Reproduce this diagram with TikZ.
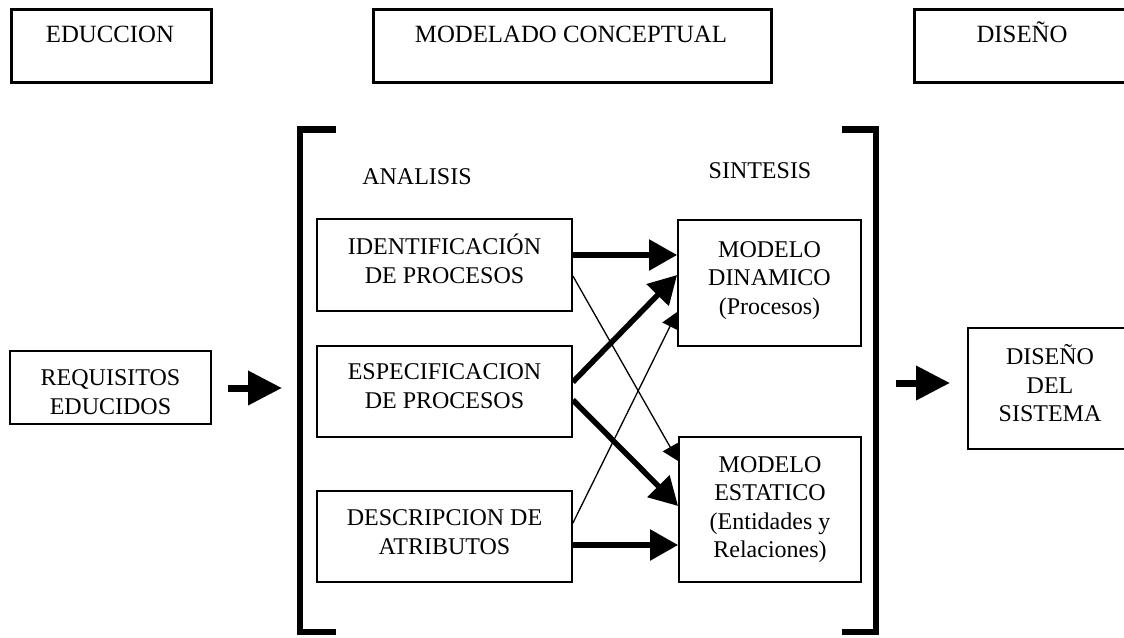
\documentclass[tikz,border=0pt]{standalone}
\usepackage{fontspec}
\setmainfont{Liberation Serif}
\usetikzlibrary{arrows.meta}
\newcommand\liftlines[2]{\raisebox{#1}[\height][\depth]{\def\arraystretch{1}\begin{tabular}{@{}c@{}}#2\end{tabular}}}
\tikzset{
  box/.style={draw, line width=1.8pt, inner sep=0pt, align=center, font=\fontsize{24}{28.5}\selectfont},
  topbox/.style={draw, line width=2.6pt, inner sep=0pt},
  toptext/.style={inner sep=0pt, anchor=base, font=\fontsize{24.8}{29}\selectfont},
  lbl/.style={inner sep=0pt, font=\fontsize{24}{28.5}\selectfont},
  thick arrow/.style={line width=5.5pt, -{Triangle[length=28pt,width=30pt]}},
  thin arrow/.style={line width=1.3pt, -{Triangle[length=16pt,width=17pt]}},
  big arrow/.style={line width=7pt, -{Triangle[length=34pt,width=33pt]}},
  bracket/.style={line width=6.5pt, line join=miter},
}
\begin{document}
\begin{tikzpicture}[x=1pt,y=-1pt]
\useasboundingbox (0,0) rectangle (1124,637);
\clip (0,0) rectangle (1124,637);
% top boxes
\node[topbox, minimum width=200pt, minimum height=73pt, anchor=north west] (educ) at (10,8) {};
\node[toptext] (educt) at (110,42) {EDUCCION};
\node[topbox, minimum width=398pt, minimum height=73pt, anchor=north west] (mod) at (372,8) {};
\node[toptext] (modt) at (571,42) {MODELADO CONCEPTUAL};
\node[topbox, minimum width=220pt, minimum height=73pt, anchor=north west] (dis) at (913,8) {};
\node[toptext] (dist) at (1022,42) {DISEÑO};
% brackets
\coordinate (lb1) at (336,129.5); \coordinate (lb2) at (300,129.5);
\coordinate (lb3) at (300,632); \coordinate (lb4) at (336,632);
\coordinate (rb1) at (842,129.5); \coordinate (rb2) at (876,129.5);
\coordinate (rb3) at (876,632); \coordinate (rb4) at (842,632);
\draw[bracket] (lb1) -- (lb2) -- (lb3) -- (lb4);
\draw[bracket] (rb1) -- (rb2) -- (rb3) -- (rb4);
% labels
\node[lbl] (ana) at (417,177) {ANALISIS};
\node[lbl] (sin) at (760,171) {SINTESIS};
% boxes
\node[box, minimum width=255pt, minimum height=92pt] (ident) at (444.5,265) {\liftlines{2pt}{IDENTIFICACIÓN\\DE PROCESOS}};
\node[box, minimum width=255pt, minimum height=91pt] (espec) at (444.5,391.5) {\liftlines{3pt}{ESPECIFICACION\\DE PROCESOS}};
\node[box, minimum width=255pt, minimum height=91pt] (desc) at (444.5,536.5) {\liftlines{2pt}{DESCRIPCION DE\\ATRIBUTOS}};
\node[box, minimum width=183pt, minimum height=126pt] (din) at (769.5,283) {\liftlines{3pt}{MODELO\\DINAMICO\\(Procesos)}};
\node[box, minimum width=182pt, minimum height=145pt] (est) at (770,509.5) {\liftlines{0pt}{MODELO\\ESTATICO\\(Entidades y\\Relaciones)}};
\node[box, minimum width=201pt, minimum height=73pt] (req) at (110.5,387.5) {\liftlines{-7pt}{REQUISITOS\\EDUCIDOS}};
\node[box, minimum width=164pt, minimum height=121pt] (dsis) at (1050,388.5) {\liftlines{1pt}{DISEÑO\\DEL\\SISTEMA}};
% connectors
\draw[thick arrow] ([yshift=10pt]ident.east) -- ([yshift=28pt]din.west);
\draw[thin arrow] ([yshift=-11pt]ident.east) -- ([yshift=48.5pt]est.west);
\draw[thick arrow] ([yshift=9.5pt]espec.east) -- ([yshift=8pt]din.west);
\draw[thick arrow] ([yshift=-8.5pt]espec.east) -- ([yshift=3.5pt]est.west);
\draw[thin arrow] ([yshift=13.5pt]desc.east) -- ([yshift=-29pt]din.west);
\draw[thick arrow] ([yshift=-8.5pt]desc.east) -- ([yshift=-35.5pt]est.west);
% big arrows
\coordinate (a1s) at (228,388); \coordinate (a1e) at (282,388);
\coordinate (a2s) at (896,383); \coordinate (a2e) at (950,383);
\draw[big arrow] (a1s) -- (a1e);
\draw[big arrow] (a2s) -- (a2e);
\end{tikzpicture}
\end{document}
